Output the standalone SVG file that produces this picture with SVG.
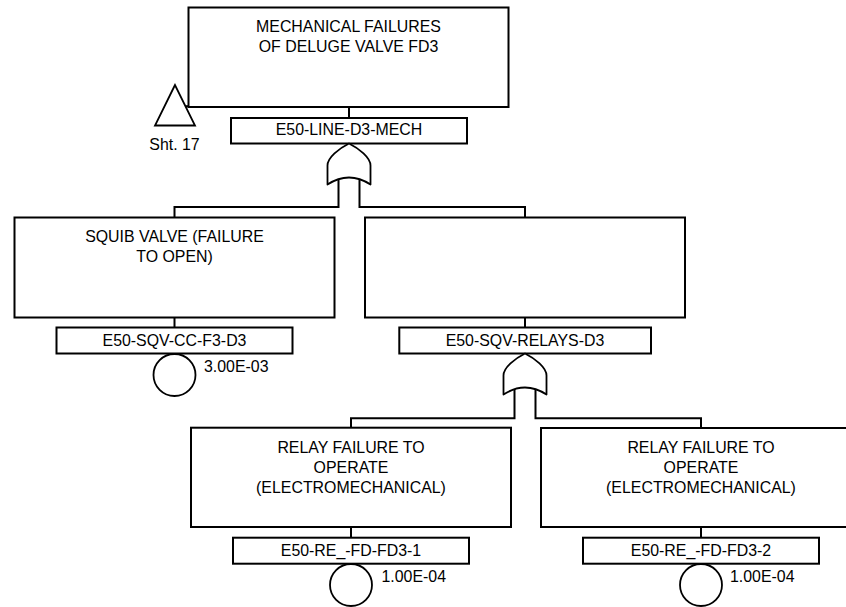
<svg xmlns="http://www.w3.org/2000/svg" width="846" height="607" viewBox="0 0 846 607">
<style>
  .box { fill: #ffffff; stroke: #000000; stroke-width: 2; }
  .lbl { fill: #ffffff; stroke: #000000; stroke-width: 2; }
  .gate { fill: #ffffff; stroke: #000000; stroke-width: 1.8; stroke-linejoin: round; }
  .conn { fill: none; stroke: #000000; stroke-width: 2; }
  text { font-family: "Liberation Sans", Arial, sans-serif; font-size: 15.9px; fill: #000000; }
  .c { text-anchor: middle; }
</style>
<rect width="846" height="607" fill="#ffffff"/>

<g id="connectors">
  <line class="conn" x1="349" y1="107" x2="349" y2="118"/>
  <polyline class="conn" points="338.5,179 338.5,207 174.5,207 174.5,217.5"/>
  <polyline class="conn" points="359.5,179 359.5,207 525,207 525,217.5"/>
  <line class="conn" x1="174.5" y1="317.5" x2="174.5" y2="327.5"/>
  <line class="conn" x1="525" y1="317.5" x2="525" y2="327.5"/>
  <polyline class="conn" points="514.5,389 514.5,418.3 351,418.3 351,427.7"/>
  <polyline class="conn" points="535.5,389 535.5,418.3 701,418.3 701,428"/>
  <line class="conn" x1="351" y1="527" x2="351" y2="537.7"/>
  <line class="conn" x1="701" y1="527" x2="701" y2="537.7"/>
  <line class="conn" x1="185" y1="106.2" x2="196" y2="106.2"/>
</g>

<g id="transfer-sht17">
  <polygon points="175,85 155,125.5 195,125.5" fill="#ffffff" stroke="#000000" stroke-width="1.8"/>
  <text class="c" x="174.5" y="150">Sht. 17</text>
</g>

<g id="E50-LINE-D3-MECH">
  <rect class="box" x="188.5" y="7.5" width="320" height="99.5"/>
  <text class="c" x="348.5" y="31.7">MECHANICAL FAILURES</text>
  <text class="c" x="348.5" y="51.7">OF DELUGE VALVE FD3</text>
  <rect class="lbl" x="231" y="118" width="236" height="25.5"/>
  <text class="c" x="349" y="135.3">E50-LINE-D3-MECH</text>
  <path class="gate" d="M349,143.5 C339,148.5 327.5,157.5 327.5,165.5 L327.5,184.5 Q349,170.5 370.5,184.5 L370.5,165.5 C370.5,157.5 359,148.5 349,143.5 Z"/>
</g>

<g id="E50-SQV-CC-F3-D3">
  <rect class="box" x="14.5" y="217.5" width="320" height="100"/>
  <text class="c" x="174.5" y="242">SQUIB VALVE (FAILURE</text>
  <text class="c" x="174.5" y="262">TO OPEN)</text>
  <rect class="lbl" x="56.5" y="327.5" width="236" height="26"/>
  <text class="c" x="174.5" y="345.8">E50-SQV-CC-F3-D3</text>
  <circle cx="174.5" cy="375" r="21" fill="#ffffff" stroke="#000000" stroke-width="1.8"/>
  <text x="204" y="371.7">3.00E-03</text>
</g>

<g id="E50-SQV-RELAYS-D3">
  <rect class="box" x="365" y="217.5" width="320" height="100"/>
  <rect class="lbl" x="399.3" y="327.5" width="251.7" height="26"/>
  <text class="c" x="525" y="345.8">E50-SQV-RELAYS-D3</text>
  <path class="gate" d="M525,353.5 C515,358.5 503.5,367.5 503.5,375.5 L503.5,394.5 Q525,380.5 546.5,394.5 L546.5,375.5 C546.5,367.5 535,358.5 525,353.5 Z"/>
</g>

<g id="E50-RE_-FD-FD3-1">
  <rect class="box" x="191" y="427.7" width="320" height="99.3"/>
  <text class="c" x="351" y="452.7">RELAY FAILURE TO</text>
  <text class="c" x="351" y="472.7">OPERATE</text>
  <text class="c" x="351" y="492.7">(ELECTROMECHANICAL)</text>
  <rect class="lbl" x="233" y="537.7" width="236" height="26"/>
  <text class="c" x="351" y="556">E50-RE_-FD-FD3-1</text>
  <circle cx="351" cy="585" r="21" fill="#ffffff" stroke="#000000" stroke-width="1.8"/>
  <text x="381.5" y="581.7">1.00E-04</text>
</g>

<g id="E50-RE_-FD-FD3-2">
  <rect class="box" x="541" y="428" width="320" height="99"/>
  <text class="c" x="701" y="452.7">RELAY FAILURE TO</text>
  <text class="c" x="701" y="472.7">OPERATE</text>
  <text class="c" x="701" y="492.7">(ELECTROMECHANICAL)</text>
  <rect class="lbl" x="583" y="537.7" width="236" height="26"/>
  <text class="c" x="701" y="556">E50-RE_-FD-FD3-2</text>
  <circle cx="701" cy="585" r="21" fill="#ffffff" stroke="#000000" stroke-width="1.8"/>
  <text x="730" y="581.7">1.00E-04</text>
</g>
</svg>
